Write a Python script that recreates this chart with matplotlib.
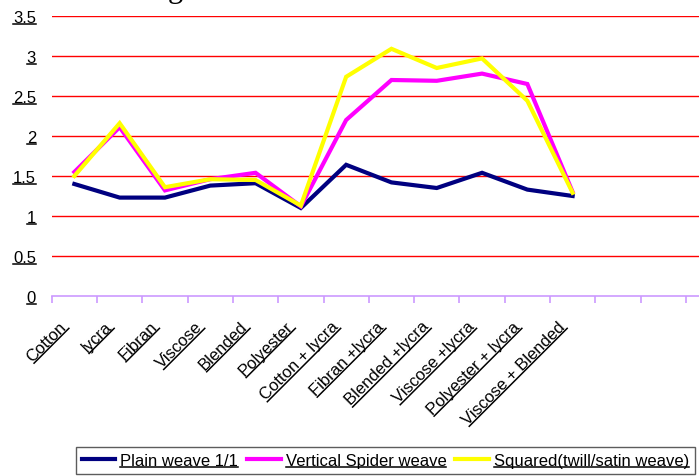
import numpy as np
import matplotlib
matplotlib.use("Agg")
import matplotlib.pyplot as plt
import matplotlib.transforms as mtransforms
from matplotlib.lines import Line2D
from matplotlib.ticker import FixedLocator

# fabric / weave data
fabrics = ["Cotton", "lycra", "Fibran", "Viscose", "Blended", "Polyester",
           "Cotton + lycra", "Fibran +lycra", "Blended +lycra", "Viscose +lycra",
           "Polyester + lycra", "Viscose + Blended"]
plain = [1.40, 1.23, 1.23, 1.38, 1.41, 1.10, 1.64, 1.42, 1.35, 1.54, 1.33, 1.25]
spider = [1.55, 2.11, 1.32, 1.46, 1.54, 1.12, 2.20, 2.70, 2.69, 2.78, 2.65, 1.30]
squared = [1.50, 2.16, 1.36, 1.46, 1.45, 1.13, 2.74, 3.09, 2.85, 2.97, 2.44, 1.29]
series_names = ["Plain weave 1/1", "Vertical Spider weave", "Squared(twill/satin weave)"]
yticks = [0, 0.5, 1, 1.5, 2, 2.5, 3, 3.5]

plt.rcParams["font.family"] = ["Liberation Sans", "DejaVu Sans"]
plt.rcParams["font.size"] = 12

W, H = 699, 477
fig = plt.figure(figsize=(W / 100, H / 100), dpi=100)
ax = fig.add_axes([51.7 / W, 180 / H, 1 - 51.7 / W, 280 / H])

x = np.arange(len(fabrics))
ax.plot(x, plain, color="#000080", lw=3, label=series_names[0], solid_joinstyle="miter")
ax.plot(x, spider, color="#FF00FF", lw=3, label=series_names[1], solid_joinstyle="miter")
ax.plot(x, squared, color="#FFFF00", lw=3, label=series_names[2], solid_joinstyle="miter")

ax.set_ylim(0, 3.5)
ax.set_xlim(-0.5, -0.5 + (W - 51.7) / 45.3)

# red horizontal gridlines, lavender category axis
for v in yticks[1:]:
    ax.axhline(v, color="#FF0000", lw=1, zorder=0)
for s in ["top", "right", "left"]:
    ax.spines[s].set_visible(False)
ax.spines["bottom"].set_color("#CC99FF")
ax.spines["bottom"].set_linewidth(1.2)

ax.set_yticks(yticks)
ax.set_yticklabels([f"{v:g}" for v in yticks])
ax.tick_params(axis="y", length=0, pad=11.3)

ax.set_xticks(x)
ax.set_xticklabels(fabrics, rotation=45, ha="right")
ax.tick_params(axis="x", which="major", length=0, pad=16)
ax.xaxis.set_minor_locator(FixedLocator(np.arange(-0.5, 14, 1)))
ax.tick_params(axis="x", which="minor", length=5, width=1.2, color="#CC99FF")
shift = mtransforms.ScaledTranslation(-5 / 100, 0, fig.dpi_scale_trans)
for lab in ax.get_xticklabels():
    lab.set_transform(lab.get_transform() + shift)

leg = fig.legend(loc="upper left", bbox_to_anchor=(76 / W, 29 / H), ncol=3,
                 frameon=True, fancybox=False, borderaxespad=0, borderpad=0.35,
                 handlelength=2.0, handletextpad=0.3, columnspacing=0.55)
leg.get_frame().set_edgecolor("#333333")
leg.get_frame().set_linewidth(1)

# the heading sits above the top edge; only its descender shows
fig.text(175 / W, 1 + 2.5 / H, "g", family="Liberation Serif", fontsize=22,
         ha="center", va="baseline")


def underline(texts, renderer):
    inv = fig.transFigure.inverted()
    for t in texts:
        rot = t.get_rotation()
        t.set_rotation(0)
        flat = t.get_window_extent(renderer)
        t.set_rotation(rot)
        bb = t.get_window_extent(renderer)
        th = np.deg2rad(rot)
        w, h = flat.width, flat.height
        u = 0.04 * t.get_fontsize() * fig.dpi / 72
        x0 = bb.x0 + h * np.sin(th) - u * np.sin(th)
        y0 = bb.y0 + u * np.cos(th)
        x1 = x0 + w * np.cos(th)
        y1 = y0 + w * np.sin(th)
        p = inv.transform([[x0, y0], [x1, y1]])
        fig.add_artist(Line2D(p[:, 0], p[:, 1], color="black", lw=1.1,
                              transform=fig.transFigure, zorder=10))


fig.canvas.draw()
r = fig.canvas.get_renderer()
underline(ax.get_xticklabels() + ax.get_yticklabels() + leg.get_texts(), r)

fig.savefig("out.png", dpi=100)
